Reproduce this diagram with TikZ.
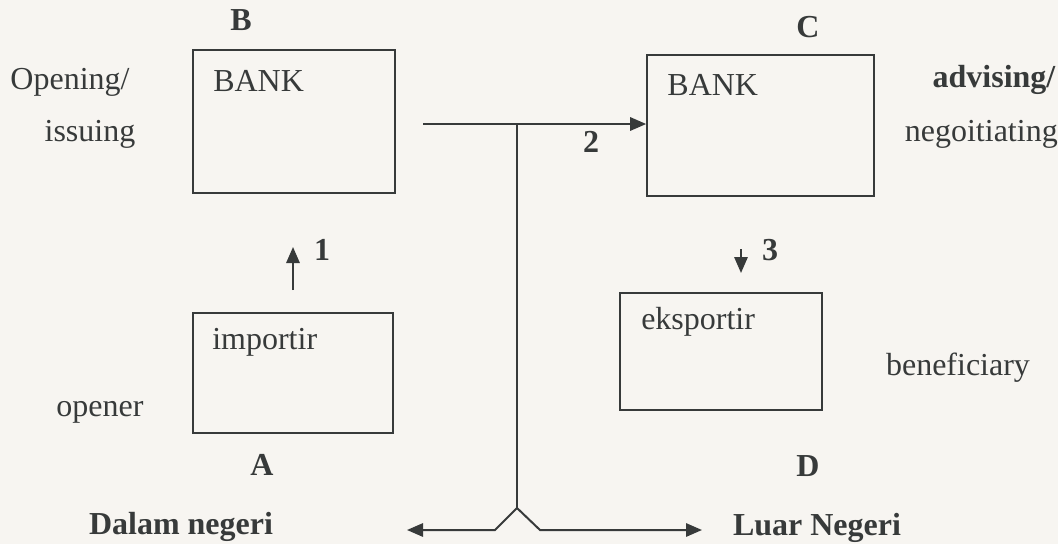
\documentclass[tikz,border=0pt]{standalone}
\usepackage{fontspec}
\setmainfont{Liberation Serif}
\usetikzlibrary{arrows.meta,calc}
\definecolor{paper}{RGB}{247,245,241}
\definecolor{ink}{RGB}{55,58,58}
\newcommand{\diagfont}{\fontsize{24}{28}\selectfont}
\tikzset{
  party/.style={draw=ink, line width=1.5pt, rectangle, inner sep=0pt},
  inbox/.style={anchor=west, text=ink, inner sep=0pt},
  tag/.style={text=ink, inner sep=0pt, font=\diagfont\bfseries},
  role/.style={text=ink, inner sep=0pt},
  flow/.style={draw=ink, line width=1.5pt, -{Triangle[length=12pt,width=10pt]}},
  wire/.style={draw=ink, line width=1.5pt}
}

\begin{document}
\begin{tikzpicture}[x=0.75pt, y=-0.75pt, font=\diagfont]
  \fill[paper] (0,0) rectangle (1058,544);
  \useasboundingbox (0,0) rectangle (1058,544);

  % Define nodes
  \node[party, minimum width=151.5pt, minimum height=107pt] (B) at (294,121.5) {};
  \node[party, minimum width=170pt, minimum height=106pt] (C) at (760.5,125.5) {};
  \node[party, minimum width=150pt, minimum height=90pt] (A) at (293,373) {};
  \node[party, minimum width=151.5pt, minimum height=88pt] (D) at (721,351.5) {};

  \node[inbox] (bankB) at ($(B.north west)+(21,32)$) {BANK};
  \node[inbox] (bankC) at ($(C.north west)+(21,31)$) {BANK};
  \node[inbox] (imp) at ($(A.north west)+(20,30)$) {importir};
  \node[inbox] (eks) at ($(D.north west)+(22,30)$) {eksportir};

  \node[tag] (tagB) at (241,20) {B};
  \node[tag] (tagC) at (808,27) {C};
  \node[tag] (tagA) at (262,465) {A};
  \node[tag] (tagD) at (808,466) {D};

  \node[role] (open) at (70,82) {Opening/};
  \node[role] (issue) at (90,134) {issuing};
  \node[role] (opener) at (100,412) {opener};
  \node[tag] (advise) at (994,80) {advising/};
  \node[role, anchor=east] (nego) at (1058,134) {negoitiating};
  \node[role] (benef) at (958,368) {beneficiary};

  \node[tag] (dalam) at (181,527) {Dalam negeri};
  \node[tag] (luar) at (817,528) {Luar Negeri};

  \node[tag] (n1) at (322,250) {1};
  \node[tag] (n2) at (591,142) {2};
  \node[tag] (n3) at (770,250) {3};

  \coordinate (s1) at (293,290);
  \coordinate (e1) at (293,247);
  \coordinate (s2) at (423,124);
  \coordinate (s3) at (741,249);
  \coordinate (e3) at (741,273);
  \coordinate (top) at (517,124);
  \coordinate (fork) at (517,508);
  \coordinate (endL) at (407,530);
  \coordinate (endR) at (702,530);

  % Connect the nodes
  \draw[flow] (s1) -- (e1);
  \draw[flow] (s2) -- (s2 -| C.west);
  \draw[flow] (s3) -- (e3);
  \draw[wire] (top) -- (fork);
  \draw[flow] (fork) -- (495,530) -- (endL);
  \draw[flow] (fork) -- (540,530) -- (endR);
\end{tikzpicture}
\end{document}
